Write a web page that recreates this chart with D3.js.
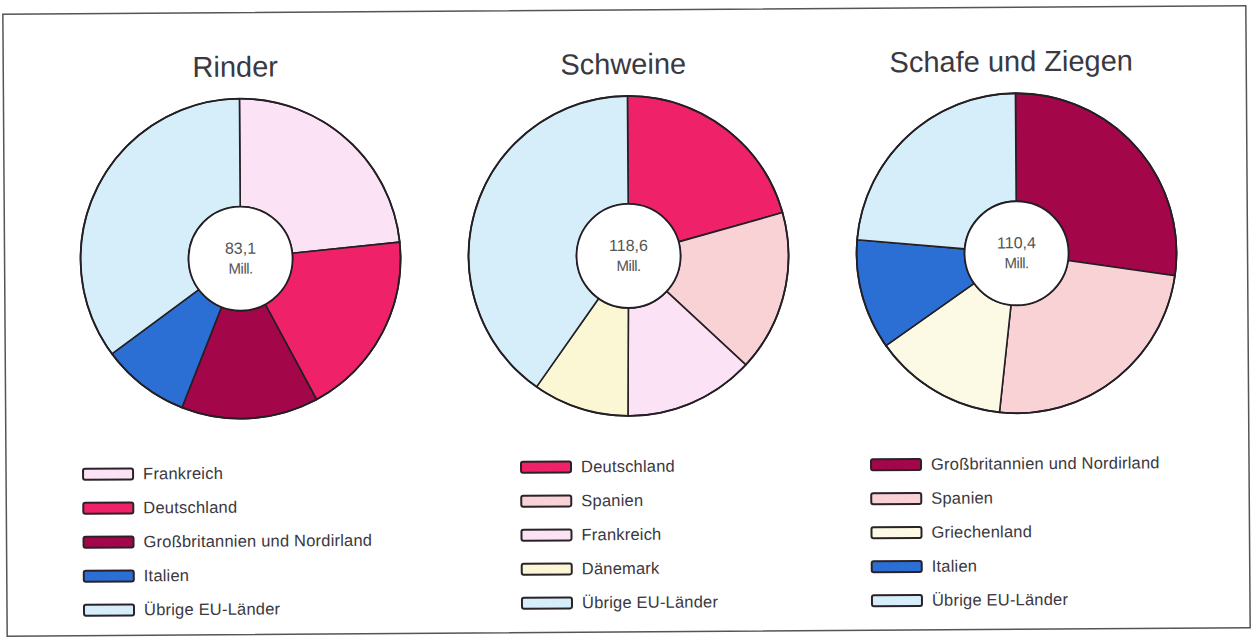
<!DOCTYPE html>
<html>
<head>
<meta charset="utf-8">
<script src="https://cdn.jsdelivr.net/npm/d3@7"></script>
<style>
  html, body { margin: 0; padding: 0; background: #fff; }
  svg { display: block; font-family: "Liberation Sans", Arial, sans-serif; }
</style>
</head>
<body>
<svg id="chart"></svg>
<script>
// data (Mill. Tiere)
const titel = ["Rinder", "Schweine", "Schafe und Ziegen"];
const summen = ["83,1", "118,6", "110,4"];

const rinderLaender = ["Frankreich", "Deutschland", "Großbritannien und Nordirland", "Italien", "Übrige EU-Länder"];
const rinderWerte = [19.5, 15.6, 11.5, 7.4, 29.1];

const schweineLaender = ["Deutschland", "Spanien", "Frankreich", "Dänemark", "Übrige EU-Länder"];
const schweineWerte = [24.6, 19.3, 15.6, 11.5, 47.6];

const schafeLaender = ["Großbritannien und Nordirland", "Spanien", "Griechenland", "Italien", "Übrige EU-Länder"];
const schafeWerte = [30.2, 27.0, 14.9, 12.3, 26.0];

const laender = ["Frankreich", "Deutschland", "Großbritannien und Nordirland", "Italien",
  "Übrige EU-Länder", "Spanien", "Dänemark", "Griechenland"];
const farben = ["#fbe2f5", "#ef2168", "#a3074a", "#2c6fd4", "#d5eef9", "#f9d2d5", "#fbf7d5", "#fcf9e4"];

const w = 1251, h = 641;
const $svg = d3.select('#chart').attr('width', w).attr('height', h);

const color = d3.scaleOrdinal().domain(laender).range(farben);

// the scan is slightly tilted, so everything sits in one rotated group
const $g = $svg.append('g').attr('transform', 'rotate(-0.4, 625, 320)');

$g.append('rect')
  .attr('x', 5).attr('y', 10)
  .attr('width', 1243).attr('height', 622)
  .attr('fill', 'none')
  .attr('stroke', '#555')
  .attr('stroke-width', 1.5);

const charts = [
  { laender: rinderLaender, werte: rinderWerte },
  { laender: schweineLaender, werte: schweineWerte },
  { laender: schafeLaender, werte: schafeWerte }
];

// pie centres
const xPos = d3.scalePoint().domain(titel).range([241, 1017]);
const cy = 256;
const R = 160, r = 52;

// legend placement per chart
const legendX = [82, 520, 870];
const legendY = d3.scaleLinear().domain([0, 4]).range([0, 136]);
const legendTop = [470, 466, 466];

const pie = d3.pie().sort(null).value(d => d.wert);
const arc = d3.arc().innerRadius(r).outerRadius(R);

charts.forEach(function(c, i) {
  const cx = xPos(titel[i]);
  const daten = c.laender.map((l, j) => ({ land: l, wert: c.werte[j] }));

  $g.append('text')
    .attr('x', cx - 4).attr('y', 74)
    .attr('text-anchor', 'middle')
    .attr('font-size', 29)
    .attr('fill', '#3a3840')
    .text(titel[i]);

  const $pie = $g.append('g').attr('transform', `translate(${cx},${cy})`);

  $pie.selectAll('path')
    .data(pie(daten))
    .join('path')
    .attr('d', arc)
    .attr('fill', d => color(d.data.land))
    .attr('stroke', '#231f24')
    .attr('stroke-width', 1.6)
    .attr('stroke-linejoin', 'round');

  $pie.append('circle')
    .attr('r', R)
    .attr('fill', 'none')
    .attr('stroke', '#231f24')
    .attr('stroke-width', 1.8);

  $pie.append('circle')
    .attr('r', r)
    .attr('fill', '#fff')
    .attr('stroke', '#231f24')
    .attr('stroke-width', 1.8);

  $pie.append('text')
    .attr('text-anchor', 'middle')
    .attr('y', -5)
    .attr('font-size', 16)
    .attr('fill', '#555')
    .text(summen[i]);

  $pie.append('text')
    .attr('text-anchor', 'middle')
    .attr('y', 15)
    .attr('font-size', 15)
    .attr('letter-spacing', -0.5)
    .attr('fill', '#555')
    .text('Mill.');

  // legend
  const $leg = $g.append('g')
    .attr('transform', `translate(${legendX[i]},${legendTop[i]})`);

  const $rows = $leg.selectAll('g')
    .data(daten)
    .join('g')
    .attr('transform', (d, j) => `translate(0,${legendY(j)})`);

  $rows.append('rect')
    .attr('x', 0).attr('y', -5)
    .attr('width', 50).attr('height', 11)
    .attr('rx', 2)
    .attr('fill', d => color(d.land))
    .attr('stroke', '#2a2228')
    .attr('stroke-width', 2);

  $rows.append('text')
    .attr('x', 60).attr('y', 6)
    .attr('font-size', 16.5)
    .attr('letter-spacing', 0.2)
    .attr('fill', '#3a3840')
    .text(d => d.land);
});
</script>
</body>
</html>
